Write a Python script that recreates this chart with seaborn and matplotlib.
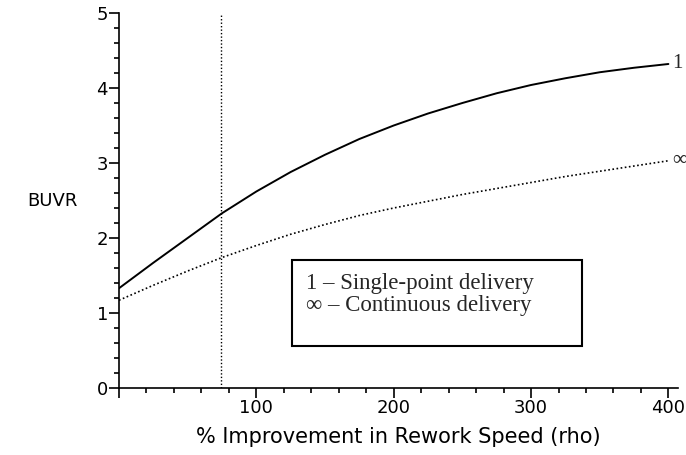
import matplotlib

matplotlib.use("Agg")

import matplotlib.pyplot as plt
import pandas as pd
import seaborn as sns
from matplotlib.patches import Rectangle
from matplotlib.ticker import MultipleLocator

rho = [0, 25, 50, 75, 100, 125, 150, 175, 200, 225, 250, 275, 300, 325, 350, 375, 400]
single_point = [1.33, 1.67, 2.00, 2.33, 2.62, 2.88, 3.11, 3.32, 3.50, 3.66, 3.80, 3.93, 4.04, 4.13, 4.21, 4.27, 4.32]
continuous = [1.17, 1.37, 1.56, 1.74, 1.90, 2.05, 2.18, 2.30, 2.40, 2.49, 2.58, 2.66, 2.74, 2.82, 2.89, 2.96, 3.03]
marker_rho = 74
x_ticks = [0, 100, 200, 300, 400]
x_tick_labels = ["", "100", "200", "300", "400"]
y_ticks = [0, 1, 2, 3, 4, 5]
legend_lines = ["1 \u2013 Single-point delivery", "\u221e \u2013 Continuous delivery"]

df = pd.DataFrame({"rho": rho, "single": single_point, "continuous": continuous})

sns.set_theme(style="ticks")
plt.rcParams["font.family"] = ["DejaVu Sans"]

fig = plt.figure(figsize=(6.86, 4.55), dpi=100)
ax = fig.add_axes([119 / 686, 1 - 388 / 455, (678 - 119) / 686, (388 - 13) / 455])

sns.lineplot(data=df, x="rho", y="single", ax=ax, color="black", linewidth=1.4)
sns.lineplot(data=df, x="rho", y="continuous", ax=ax, color="black", linewidth=1.2,
             linestyle=(0, (1, 1.5)))
ax.plot([marker_rho, marker_rho], [0, 5], color="black", linewidth=1.0, linestyle=(0, (1, 1.5)))

ax.set_xlim(0, 407)
ax.set_ylim(0, 5)
sns.despine(ax=ax)
for side in ["left", "bottom"]:
    ax.spines[side].set_linewidth(1.2)
    ax.spines[side].set_color("black")

ax.set_xticks(x_ticks)
ax.set_xticklabels(x_tick_labels)
ax.set_yticks(y_ticks)
ax.xaxis.set_minor_locator(MultipleLocator(20))
ax.yaxis.set_minor_locator(MultipleLocator(0.2))
ax.tick_params(axis="both", which="major", length=7, width=1.2, color="black",
               labelsize=13, labelcolor="black", pad=1)
ax.tick_params(axis="both", which="minor", length=3.5, width=1.2, color="black")

ax.set_xlabel("% Improvement in Rework Speed (rho)", fontsize=15, color="black", labelpad=7)
ax.set_ylabel("BUVR", fontsize=13, color="black", rotation=0, va="center", ha="center")
ax.yaxis.set_label_coords(-67 / 559, 0.5)

serif = ["Liberation Serif", "DejaVu Serif"]
ax.text(rho[-1] + 3, single_point[-1], "1", family=serif, fontsize=15, va="center", ha="left")
ax.text(rho[-1] + 3, continuous[-1], "\u221e", family=serif, fontsize=15, va="center", ha="left")

# boxed note
box_x0, box_y0 = (292 - 119) / 559, (388 - 346) / 375
box_w, box_h = (582 - 292) / 559, (346 - 260) / 375
ax.add_patch(Rectangle((box_x0, box_y0), box_w, box_h, transform=ax.transAxes,
                       facecolor="white", edgecolor="black", linewidth=1.5, zorder=5))
for i, line in enumerate(legend_lines):
    ax.text((306 - 119) / 559, (388 - 283 - 23 * i) / 375, line, transform=ax.transAxes,
            family=serif, fontsize=16.5, va="center", ha="left", zorder=6)

fig.savefig("out.png", dpi=100)
